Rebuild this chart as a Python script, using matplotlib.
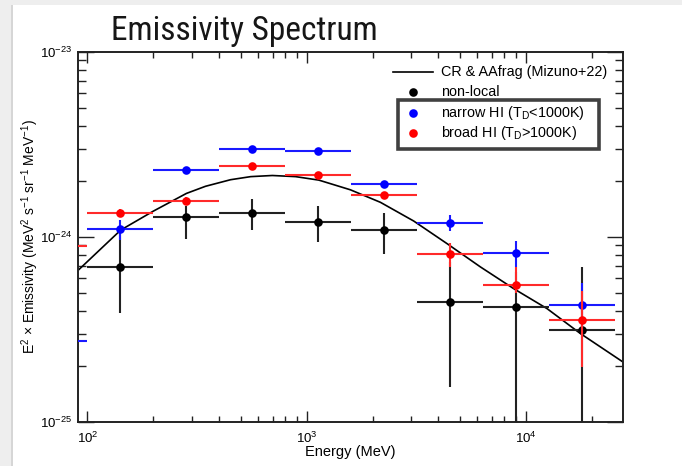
import numpy as np
import matplotlib
matplotlib.use("Agg")
import matplotlib.pyplot as plt
from matplotlib.lines import Line2D
from matplotlib.patches import Rectangle
from matplotlib.ticker import LogLocator, NullFormatter

plt.rcParams["font.family"] = ["Liberation Sans", "DejaVu Sans"]
plt.rcParams["mathtext.fontset"] = "custom"
plt.rcParams["mathtext.rm"] = "Liberation Sans"
plt.rcParams["mathtext.it"] = "Liberation Sans:italic"
plt.rcParams["mathtext.bf"] = "Liberation Sans:bold"

# energy bins (MeV): centres and edges
e_cen = [70.7, 141.4, 282.8, 565.7, 1131, 2263, 4525, 9051, 18102]
e_lo = [50, 100, 200, 400, 800, 1600, 3200, 6400, 12800]
e_hi = [100, 200, 400, 800, 1600, 3200, 6400, 12800, 25600]

# non-local (black), no point in the first bin
nl_val = [6.85e-25, 1.29e-24, 1.35e-24, 1.21e-24, 1.09e-24, 4.46e-25, 4.19e-25, 3.13e-25]
nl_up = [1.08e-24, 1.48e-24, 1.61e-24, 1.47e-24, 1.34e-24, 7.3e-25, 6.5e-25, 6.89e-25]
nl_dn = [3.86e-25, 9.8e-25, 1.09e-24, 9.4e-25, 8.1e-25, 1.55e-25, 5e-26, 5e-26]

# narrow HI (blue)
na_val = [2.74e-25, 1.10e-24, 2.31e-24, 2.98e-24, 2.92e-24, 1.93e-24, 1.19e-24, 8.24e-25, 4.28e-25]
na_up = [3.0e-25, 1.23e-24, 2.40e-24, 3.07e-24, 3.00e-24, 1.98e-24, 1.31e-24, 9.5e-25, 5.62e-25]
na_dn = [2.5e-25, 9.6e-25, 2.23e-24, 2.90e-24, 2.84e-24, 1.88e-24, 1.08e-24, 6.9e-25, 3.0e-25]

# broad HI (red)
br_val = [8.9e-25, 1.35e-24, 1.57e-24, 2.41e-24, 2.16e-24, 1.68e-24, 8.05e-25, 5.53e-25, 3.55e-25]
br_up = [9.5e-25, 1.42e-24, 1.65e-24, 2.50e-24, 2.24e-24, 1.74e-24, 9.3e-25, 6.9e-25, 5.1e-25]
br_dn = [8.3e-25, 1.28e-24, 1.49e-24, 2.33e-24, 2.09e-24, 1.62e-24, 6.9e-25, 5.0e-25, 1.98e-25]

# model curve: CR & AAfrag (Mizuno+22)
model_e = [91.5, 141.9, 200, 283, 346, 450, 556, 698, 891, 1138, 1584, 2173,
           3083, 4381, 6215, 8812, 12520, 17750, 27800]
model_v = [6.67e-25, 1.09e-24, 1.38e-24, 1.72e-24, 1.88e-24, 2.04e-24, 2.12e-24,
           2.15e-24, 2.12e-24, 2.03e-24, 1.80e-24, 1.54e-24, 1.22e-24, 9.2e-25,
           6.89e-25, 5.26e-25, 4.10e-25, 3.01e-25, 2.11e-25]

W, H = 682, 466


def fx(x):
    return x / W


def fy(y):
    return 1 - y / H


fig = plt.figure(figsize=(W / 100, H / 100), dpi=100)
fig.patch.set_facecolor("#eeeeee")
fig.patches.append(Rectangle((fx(12), 0), 1, fy(5), transform=fig.transFigure,
                             facecolor="white", edgecolor="none", zorder=-10))
fig.patches.append(Rectangle((fx(11), 0), fx(1.5), fy(5), transform=fig.transFigure,
                             facecolor="#d6d6d6", edgecolor="none", zorder=-10))

ax = fig.add_axes([fx(78), fy(422), fx(623 - 78), (422 - 52) / H])
ax.set_xscale("log")
ax.set_yscale("log")


def draw(cen, lo, hi, val, up, dn, col, ecol, z):
    cen, lo, hi = np.asarray(cen), np.asarray(lo), np.asarray(hi)
    val, up, dn = np.asarray(val), np.asarray(up), np.asarray(dn)
    ax.errorbar(cen, val, xerr=[cen - lo, hi - cen], yerr=[val - dn, up - val],
                fmt="o", color=col, ecolor=ecol, ms=6.2, mew=0,
                elinewidth=1.5, capsize=0, zorder=z)


ax.plot(model_e, model_v, color="black", lw=1.2, zorder=2)
n = len(nl_val)
draw(e_cen[-n:], e_lo[-n:], e_hi[-n:], nl_val, nl_up, nl_dn, "black", "#222222", 3)
draw(e_cen, e_lo, e_hi, na_val, na_up, na_dn, "#0000ff", "#1a1aff", 4)
draw(e_cen, e_lo, e_hi, br_val, br_up, br_dn, "#ff0000", "#ff2a2a", 5)

ax.set_xlim(90.6, 27800)
ax.set_ylim(1e-25, 1e-23)

ax.set_xticks([1e2, 1e3, 1e4], labels=["10$^{2}$", "10$^{3}$", "10$^{4}$"])
ax.set_yticks([1e-25, 1e-24, 1e-23], labels=["10$^{-25}$", "10$^{-24}$", "10$^{-23}$"])
for a in (ax.xaxis, ax.yaxis):
    a.set_minor_locator(LogLocator(base=10, subs=np.arange(2, 10)))
    a.set_minor_formatter(NullFormatter())

ax.tick_params(which="both", direction="in", top=True, right=True,
               width=1.0, color="#222222", labelsize=9.5)
ax.tick_params(axis="x", which="major", length=8, pad=6)
ax.tick_params(axis="x", which="minor", length=4)
ax.tick_params(axis="y", which="major", length=11.5, pad=4)
ax.tick_params(axis="y", which="minor", length=5.8)
for s in ax.spines.values():
    s.set_linewidth(1.4)
    s.set_color("#222222")

fig.text(fx(350), fy(452), "Energy (MeV)", ha="center", va="center", fontsize=10.5)
fig.text(fx(30), fy(237),
         r"E$^{2}$ $\times$ Emissivity (MeV$^{2}$ s$^{-1}$ sr$^{-1}$ MeV$^{-1}$)",
         rotation=90, ha="center", va="center", fontsize=10)

fig.text(fx(111), fy(40), "Emissivity Spectrum", ha="left", va="baseline",
         fontsize=24, color="#161616", fontstretch="condensed",
         family=["Roboto Condensed", "Liberation Sans Narrow", "Roboto", "DejaVu Sans"])

# legend, drawn by hand (ROOT style)
fig.add_artist(Line2D([fx(393), fx(433)], [fy(72), fy(72)], color="black", lw=1.2))
leg_rows = [("non-local", "black", 92.3),
            (r"narrow HI (T$_{\rm D}$<1000K)", "#0000ff", 113.3),
            (r"broad HI (T$_{\rm D}$>1000K)", "#ff0000", 133.3)]
fig.text(fx(441), fy(72), "CR & AAfrag (Mizuno+22)", va="center", fontsize=10.4)
for txt, col, yy in leg_rows:
    fig.add_artist(Line2D([fx(413)], [fy(yy)], marker="o", color=col, ms=6.2, mew=0))
    fig.text(fx(441), fy(yy), txt, va="center", fontsize=10.4)
fig.patches.append(Rectangle((fx(397.5), fy(149)), fx(598.5 - 397.5), (149 - 100) / H,
                             transform=fig.transFigure, facecolor="none",
                             edgecolor="#404040", lw=2.6, zorder=5))

fig.savefig("out.png", dpi=100, facecolor=fig.get_facecolor())
